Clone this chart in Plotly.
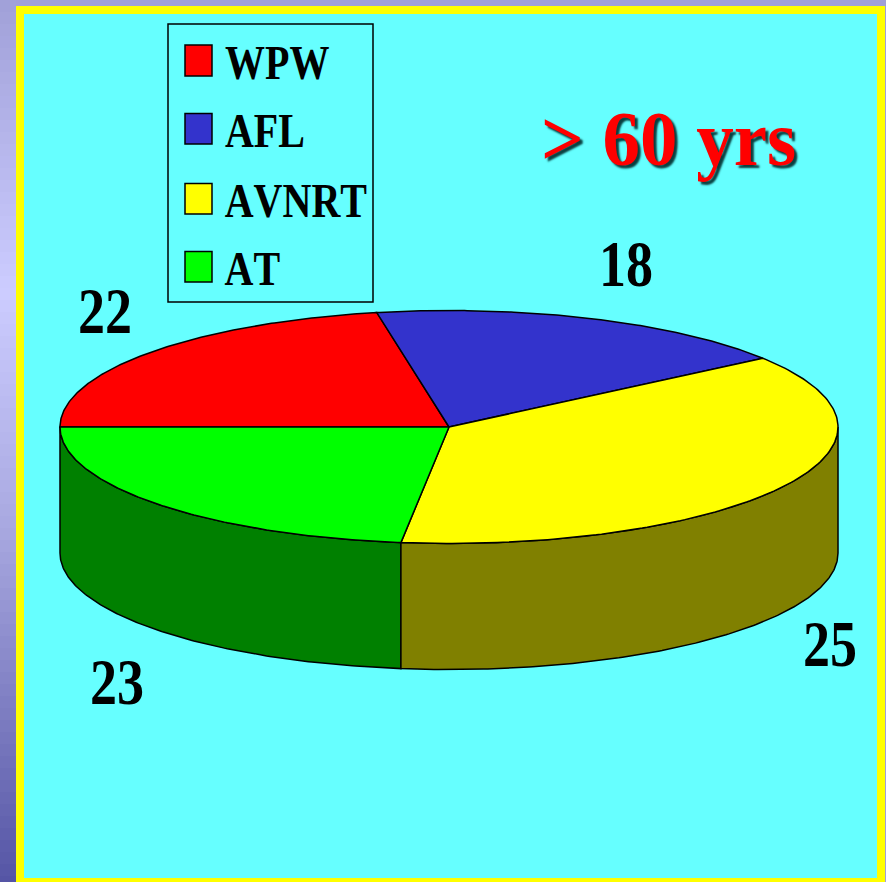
import numpy as np
import plotly.graph_objects as go

# ---- data ----
categories = ["WPW", "AFL", "AVNRT", "AT"]
values = [22, 18, 25, 23]
# angular spans of the drawn slices (degrees); the picture's 3-D slices are not proportional to the labels
slice_spans = [79.3, 64.5, 133.3, 82.9]
top_colors = ["#FF0000", "#3333CC", "#FFFF00", "#00FF00"]
wall_colors = {"AVNRT": "#808000", "AT": "#008000"}
title_text = "> 60 yrs"
value_label_xy = [(105, 311), (626, 264), (830, 644), (117, 682)]

# ---- layout constants ----
W, H = 886, 882
CX, CY, RX, RY, DEPTH = 449, 427, 389, 116.5, 126
LEGEND_BOX = (168, 24, 373, 302)
SWATCH_X = (185, 212)
SWATCH_Y = [(45, 76), (113.5, 144), (183.5, 214), (251.5, 282)]
LEGEND_TEXT_X = [223, 223, 226, 224]
LEGEND_TEXT_Y = [62, 130, 200, 268]
SERIF = "Liberation Serif, Times New Roman, serif"


def ell(a_deg):
    a = np.radians(a_deg)
    return CX + RX * np.cos(a), CY - RY * np.sin(a)


fig = go.Figure()

# gradient strip at the left of the slide
strip_y = np.arange(6, 890, 12)
strip_z = [[float(y)] for y in strip_y]
fig.add_trace(go.Heatmap(
    z=strip_z, x0=8, dx=16, y0=6, dy=12, showscale=False, hoverinfo="skip",
    zmin=0, zmax=882,
    colorscale=[[0, "#A0A0D8"], [0.33, "#CCCCFF"], [0.6, "#A8A8E0"], [1, "#5555A5"]],
))

# slice angles: clockwise from the left-hand point of the ellipse
edges = 180 - np.cumsum([0.0] + slice_spans)

# side walls (only the front half of the cylinder is visible)
front_spans = {"AT": (-180.0, edges[3]), "AVNRT": (edges[3], 0.0)}
for cat, (start, stop) in front_spans.items():
    x, y = ell(np.linspace(start, stop, 160))
    px = np.concatenate([x, x[::-1], x[:1]])
    py = np.concatenate([y, (y + DEPTH)[::-1], y[:1]])
    fig.add_trace(go.Scatter(
        x=px, y=py, mode="lines", fill="toself", fillcolor=wall_colors[cat],
        line=dict(color="black", width=1.5), hoverinfo="skip", showlegend=False,
    ))

# top face slices
for i, cat in enumerate(categories):
    x, y = ell(np.linspace(edges[i], edges[i + 1], 160))
    px = np.concatenate([[CX], x, [CX]])
    py = np.concatenate([[CY], y, [CY]])
    fig.add_trace(go.Scatter(
        x=px, y=py, mode="lines", fill="toself", fillcolor=top_colors[i],
        line=dict(color="black", width=1.5), name=cat, hoverinfo="skip", showlegend=False,
    ))

# frame and legend box
shapes = [
    dict(type="rect", layer="below", x0=16, x1=885, y0=6, y1=882, fillcolor="#FFFF00", line_width=0),
    dict(type="rect", layer="below", x0=24, x1=877, y0=14, y1=878, fillcolor="#66FFFF", line_width=0),
    dict(type="rect", x0=LEGEND_BOX[0], y0=LEGEND_BOX[1], x1=LEGEND_BOX[2], y1=LEGEND_BOX[3],
         line=dict(color="black", width=1.5), fillcolor="rgba(0,0,0,0)"),
]
annotations = []
for i, cat in enumerate(categories):
    shapes.append(dict(type="rect", x0=SWATCH_X[0], x1=SWATCH_X[1], y0=SWATCH_Y[i][0], y1=SWATCH_Y[i][1],
                       fillcolor=top_colors[i], line=dict(color="black", width=1.5)))
    annotations.append(dict(x=LEGEND_TEXT_X[i], y=LEGEND_TEXT_Y[i], text=f"<b>{cat}</b>", showarrow=False,
                            xanchor="left", yanchor="middle", font=dict(family=SERIF, size=40, color="black")))

for v, (lx, ly) in zip(values, value_label_xy):
    annotations.append(dict(x=lx, y=ly, text=f"<b>{v}</b>", showarrow=False,
                            font=dict(family=SERIF, size=54, color="black")))

annotations.append(dict(x=668, y=138, text=f"<b>{title_text.replace('>', '&gt;')}</b>", showarrow=False,
                        font=dict(family=SERIF, size=75, color="#FF0000",
                                  shadow="3px 3px 2px #0A4040")))
title_index = len(annotations) - 1

fig.update_layout(
    width=W, height=H, margin=dict(l=0, r=0, t=0, b=0),
    paper_bgcolor="#A0A0D8", plot_bgcolor="rgba(0,0,0,0)", showlegend=False,
    xaxis=dict(range=[0, W], visible=False, fixedrange=True),
    yaxis=dict(range=[H, 0], visible=False, fixedrange=True),
    shapes=shapes, annotations=annotations,
)

# the reference's text is stretched vertically; body margin removed so the page fills the window
post = """
document.body.style.margin='0';
document.body.style.overflow='hidden';
var st=document.createElement('style');
st.textContent='.annotation-text{font-kerning:none;transform-box:fill-box;transform-origin:center;transform:scaleY(1.22);}'
 + '.annotation[data-index="%d"] .annotation-text{transform:scaleY(1.05);}';
document.head.appendChild(st);
""" % title_index
fig.write_html("out.html", post_script=post, config={"displayModeBar": False})
